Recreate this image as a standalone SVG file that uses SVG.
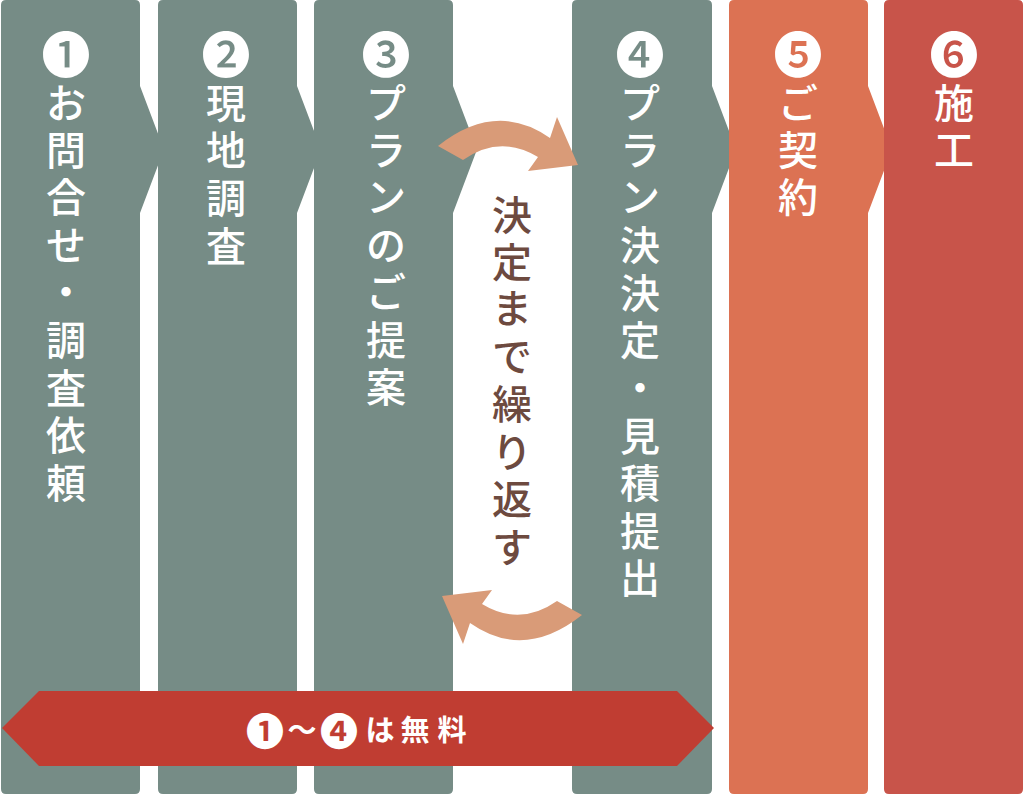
<svg xmlns="http://www.w3.org/2000/svg" width="1024" height="796" viewBox="0 0 1024 796">
<style>
.grey{fill:#768c86}
.orange{fill:#dc7253}
.red{fill:#c8544a}
.lbl{font-family:"Noto Sans CJK JP","Noto Sans CJK SC",sans-serif;font-size:40px;font-weight:500;fill:#ffffff;text-anchor:middle;dominant-baseline:central}
.num{font-size:49px}
.mid{font-family:"Noto Sans CJK JP","Noto Sans CJK SC",sans-serif;font-size:40px;font-weight:500;fill:#6d4a3f;text-anchor:middle;dominant-baseline:central}
.ban{font-family:"Noto Sans CJK JP","Noto Sans CJK SC",sans-serif;font-size:29px;font-weight:700;fill:#ffffff;text-anchor:middle;dominant-baseline:central}
.bnum{font-size:38px}
.loop{fill:#d99b78}
</style>
<defs>
<path id="loopArrow" d="M438,146 Q496,100 550,138 L557,117 L578,165 L528,171 L538,157 Q500,134 463,160 Z"/>
</defs>
<rect width="1024" height="796" fill="#ffffff"/>
<g id="step1">
<path class="grey" d="M6,0 H135 Q140,0 140,5 V86 L164,149.5 L140,213 V789 Q140,794 135,794 H6 Q1,794 1,789 V5 Q1,0 6,0 Z"/>
<text class="lbl" x="66 66 66 66 66 66 66 66 66 66" y="51 101 148 195 243 290 338 386 433 481"><tspan class="num">❶</tspan>お問合せ・調査依頼</text>
</g>
<g id="step2">
<path class="grey" d="M163,0 H292 Q297,0 297,5 V86 L321,149.5 L297,213 V789 Q297,794 292,794 H163 Q158,794 158,789 V5 Q158,0 163,0 Z"/>
<text class="lbl" x="226 226 226 226 226" y="51 101 148 196 244"><tspan class="num">❷</tspan>現地調査</text>
</g>
<g id="step3">
<path class="grey" d="M319,0 H448 Q453,0 453,5 V86 L477,149.5 L453,213 V789 Q453,794 448,794 H319 Q314,794 314,789 V5 Q314,0 319,0 Z"/>
<text class="lbl" x="386 386 386 386 386 386 386 386" y="51 101 148 195 243 290 338 385"><tspan class="num">❸</tspan>プランのご提案</text>
</g>
<g id="step4">
<path class="grey" d="M577,0 H707 Q712,0 712,5 V86 L736,149.5 L712,213 V789 Q712,794 707,794 H577 Q572,794 572,789 V5 Q572,0 577,0 Z"/>
<text class="lbl" x="640 640 640 640 640 640 640 640 640 640 640 640" y="51 101 148 195 243 291 338 386 434 481 529 576"><tspan class="num">❹</tspan>プラン決決定・見積提出</text>
</g>
<g id="step5">
<path class="orange" d="M734,0 H863 Q868,0 868,5 V86 L892,149.5 L868,213 V789 Q868,794 863,794 H734 Q729,794 729,789 V5 Q729,0 734,0 Z"/>
<text class="lbl" x="798 798 798 798" y="51 101 148 195"><tspan class="num">❺</tspan>ご契約</text>
</g>
<g id="step6">
<path class="red" d="M889,0 H1018 Q1023,0 1023,5 V789 Q1023,794 1018,794 H889 Q884,794 884,789 V5 Q884,0 889,0 Z"/>
<text class="lbl" x="954 954 954" y="51 101 148"><tspan class="num">❻</tspan>施工</text>
</g>
<g id="connectors">
<use href="#loopArrow" class="loop"/>
<use href="#loopArrow" class="loop" transform="rotate(180 510 380.5)"/>
</g>
<g id="repeat">
<text class="mid" x="512 512 512 512 512 512 512 512" y="213 260 306 354 402 450 497 545">決定まで繰り返す</text>
</g>
<g id="free">
<polygon points="2,728 39,691 677,691 714,728 677,766 39,766" fill="#c03d32"/>
<text class="ban" x="265 302 339 380 415 452" y="728 728 728 728 728 728"><tspan class="bnum">❶</tspan>〜<tspan class="bnum">❹</tspan>は無料</text>
</g>
</svg>
